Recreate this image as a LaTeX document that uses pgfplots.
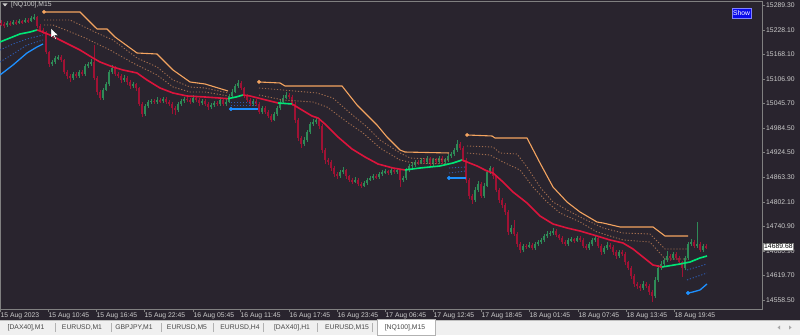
\documentclass[border=0pt]{standalone}
\usepackage{pgfplots}
\pgfplotsset{compat=1.18}
\usepackage{pgfplotstable}
\usepackage{fontspec}
\setmainfont{Liberation Sans}
\definecolor{bg}{RGB}{41,36,46}
\definecolor{framegray}{RGB}{128,128,128}
\definecolor{lblgray}{RGB}{205,205,205}
\definecolor{bull}{RGB}{46,139,87}
\definecolor{bear}{RGB}{160,18,52}
\definecolor{midred}{RGB}{220,20,60}
\definecolor{midgreen}{RGB}{0,230,118}
\definecolor{orng}{RGB}{244,164,96}
\definecolor{dotor}{RGB}{160,108,78}
\definecolor{blu}{RGB}{30,144,255}
\definecolor{dotblu}{RGB}{45,90,175}
\definecolor{tabbg}{RGB}{240,240,240}
\definecolor{tabtxt}{RGB}{70,70,70}
\definecolor{showblue}{RGB}{10,10,235}
\definecolor{showborder}{RGB}{130,130,255}
\newcommand\sm{\fontsize{6.8}{8}\selectfont}

\pgfplotstableread{
x o h l c
1 15245 15252 15238 15243
4 15243 15247 15233 15240
7 15240 15250 15236 15245
10 15245 15251 15238 15243
13 15243 15252 15240 15248
16 15248 15254 15241 15245
19 15245 15256 15242 15250
22 15250 15253 15243 15248
25 15248 15259 15245 15253
28 15253 15257 15246 15250
31 15250 15263 15247 15258
34 15258 15268 15254 15260
37 15260 15263 15233 15238
40 15238 15242 15222 15228
43 15228 15233 15218 15223
46 15223 15226 15168 15174
49 15174 15177 15137 15144
52 15144 15153 15138 15149
55 15149 15164 15145 15159
58 15159 15167 15154 15161
61 15161 15165 15148 15154
64 15154 15157 15118 15124
67 15124 15129 15107 15114
70 15114 15118 15100 15109
73 15109 15124 15104 15119
76 15119 15125 15110 15114
79 15114 15129 15110 15124
82 15124 15128 15113 15119
85 15119 15144 15115 15139
88 15139 15150 15134 15144
91 15144 15156 15140 15149
94 15149 15190 15104 15109
97 15109 15113 15068 15075
100 15075 15079 15054 15060
103 15060 15085 15055 15080
106 15080 15099 15076 15094
109 15094 15130 15090 15124
112 15124 15141 15119 15134
115 15134 15138 15113 15119
118 15119 15124 15108 15114
121 15114 15118 15098 15104
124 15104 15116 15100 15109
127 15109 15113 15093 15099
130 15099 15104 15083 15089
133 15089 15100 15085 15094
136 15094 15098 15078 15084
139 15084 15088 15039 15045
142 15045 15049 15012 15020
145 15020 15045 15016 15040
148 15040 15055 15036 15050
151 15050 15058 15045 15052
154 15052 15057 15046 15050
157 15050 15061 15046 15055
160 15055 15059 15047 15052
163 15052 15063 15048 15057
166 15057 15061 15045 15050
169 15050 15054 15040 15045
172 15045 15049 15020 15035
175 15035 15040 15017 15030
178 15030 15050 15026 15045
181 15045 15058 15041 15052
184 15052 15063 15048 15057
187 15057 15062 15050 15055
190 15055 15059 15045 15050
193 15050 15066 15046 15060
196 15060 15064 15050 15055
199 15055 15059 15041 15047
202 15047 15058 15043 15052
205 15052 15056 15039 15045
208 15045 15049 15030 15037
211 15037 15048 15033 15042
214 15042 15052 15038 15047
217 15047 15053 15040 15045
220 15045 15061 15041 15055
223 15055 15059 15039 15045
226 15045 15056 15041 15050
229 15050 15070 15046 15065
232 15065 15081 15061 15075
235 15075 15095 15071 15089
238 15089 15104 15085 15097
241 15097 15101 15079 15084
244 15084 15088 15059 15065
247 15065 15069 15049 15055
250 15055 15059 15039 15045
253 15045 15057 15041 15052
256 15052 15056 15040 15045
259 15045 15049 15019 15025
262 15025 15041 15021 15035
265 15035 15039 15019 15025
268 15025 15029 15009 15015
271 15015 15019 15000 15005
274 15005 15026 15002 15020
277 15020 15041 15016 15035
280 15035 15056 15031 15050
283 15050 15066 15046 15060
286 15060 15075 15056 15067
289 15067 15072 15057 15062
292 15062 15066 15039 15045
295 15045 15049 14998 15005
298 15005 15009 14954 14961
301 14961 14965 14936 14946
304 14946 14962 14941 14956
307 14956 14981 14951 14975
310 14975 15001 14971 14995
313 14995 15007 14991 15000
316 15000 15012 14996 15005
319 15005 15010 14984 14990
322 14990 14994 14924 14931
325 14931 14935 14896 14906
328 14906 14911 14894 14901
331 14901 14905 14880 14886
334 14886 14890 14865 14871
337 14871 14876 14860 14866
340 14866 14882 14862 14876
343 14876 14888 14872 14881
346 14881 14885 14860 14866
349 14866 14870 14851 14857
352 14857 14861 14846 14852
355 14852 14863 14848 14857
358 14857 14861 14841 14847
361 14847 14851 14837 14842
364 14842 14855 14838 14849
367 14849 14862 14845 14857
370 14857 14867 14853 14861
373 14861 14872 14857 14866
376 14866 14871 14859 14864
379 14864 14877 14860 14871
382 14871 14882 14867 14876
385 14876 14884 14872 14878
388 14878 14882 14869 14874
391 14874 14887 14870 14881
394 14881 14885 14871 14876
397 14876 14886 14872 14881
400 14881 14884 14840 14857
403 14857 14866 14852 14861
406 14861 14886 14857 14881
409 14881 14897 14877 14891
412 14891 14900 14887 14894
415 14894 14907 14890 14901
418 14901 14906 14894 14899
421 14899 14912 14895 14906
424 14906 14910 14896 14901
427 14901 14915 14897 14909
430 14909 14913 14891 14896
433 14896 14912 14892 14906
436 14906 14910 14896 14901
439 14901 14917 14897 14911
442 14911 14915 14896 14901
445 14901 14912 14897 14906
448 14906 14922 14902 14916
451 14916 14927 14912 14921
454 14921 14937 14917 14931
457 14931 14956 14927 14946
460 14946 14951 14931 14936
463 14936 14940 14900 14906
466 14906 14910 14850 14857
469 14857 14861 14810 14817
472 14817 14821 14797 14807
475 14807 14838 14803 14832
478 14832 14853 14828 14847
481 14847 14851 14811 14817
484 14817 14848 14813 14842
487 14842 14882 14838 14876
490 14876 14891 14872 14886
493 14886 14890 14860 14866
496 14866 14870 14826 14832
499 14832 14836 14800 14807
502 14807 14812 14788 14795
505 14795 14800 14770 14777
508 14777 14781 14721 14728
511 14728 14745 14723 14738
514 14738 14757 14717 14723
517 14723 14727 14691 14698
520 14698 14702 14676 14683
523 14683 14699 14679 14693
526 14693 14698 14686 14691
529 14691 14702 14687 14696
532 14696 14700 14683 14688
535 14688 14704 14684 14698
538 14698 14709 14694 14703
541 14703 14714 14699 14708
544 14708 14724 14704 14718
547 14718 14729 14714 14723
550 14723 14731 14719 14725
553 14725 14737 14721 14730
556 14730 14734 14715 14720
559 14720 14724 14707 14713
562 14713 14717 14697 14703
565 14703 14707 14692 14698
568 14698 14714 14694 14708
571 14708 14716 14704 14710
574 14710 14714 14701 14706
577 14706 14719 14702 14713
580 14713 14717 14703 14708
583 14708 14712 14687 14693
586 14693 14697 14682 14688
589 14688 14704 14684 14698
592 14698 14714 14694 14708
595 14708 14720 14704 14713
598 14713 14717 14688 14693
601 14693 14697 14672 14678
604 14678 14694 14674 14688
607 14688 14702 14684 14696
610 14696 14700 14686 14691
613 14691 14695 14672 14678
616 14678 14682 14662 14668
619 14668 14684 14664 14678
622 14678 14682 14668 14673
625 14673 14677 14647 14653
628 14653 14657 14633 14639
631 14639 14643 14612 14619
634 14619 14623 14592 14599
637 14599 14604 14587 14594
640 14594 14599 14582 14589
643 14589 14606 14584 14599
646 14599 14603 14588 14594
649 14594 14598 14572 14579
652 14579 14583 14554 14569
655 14569 14615 14565 14609
658 14609 14645 14605 14639
661 14639 14655 14634 14648
664 14648 14664 14644 14658
667 14658 14680 14654 14668
670 14668 14672 14657 14663
673 14663 14679 14659 14673
676 14673 14677 14658 14663
679 14663 14667 14647 14653
682 14653 14657 14616 14639
685 14639 14669 14634 14663
688 14663 14704 14659 14698
691 14698 14710 14694 14703
694 14703 14707 14688 14693
697 14693 14752 14689 14698
700 14698 14702 14678 14683
703 14683 14698 14679 14693
706 14693 14697 14686 14689.68
}\candles

\pgfplotsset{
  candle/.style n args={2}{draw=none, mark=none, forget plot,
    error bars/y dir=both, error bars/y explicit, error bars/error mark=none,
    error bars/error bar style={line width=#2, draw=#1, solid}},
}

\begin{document}
\begin{tikzpicture}[x=1pt,y=1pt]
\fill[bg] (0,-26) rectangle (800,309);
% tab bar
\fill[tabbg] (0,-26) rectangle (800,-11);
\draw[gray!50, line width=0.5pt] (0,-11) -- (800,-11);
\filldraw[fill=white, draw=gray!60, line width=0.5pt] (377,-26.5) rectangle (435,-10.5);
\foreach \s in {55,111,161,213,263,317,372} \draw[gray!60, line width=0.5pt] (\s,-14) -- (\s,-23);
\foreach \p/\t in {26/{[DAX40],M1},82/{EURUSD,M1},134/{GBPJPY,M1},187/{EURUSD,M5},240/{EURUSD,H4},292/{[DAX40],H1},347/{EURUSD,M15},405/{[NQ100],M15}}
  \node[font=\sm, text=tabtxt, inner sep=0pt] at (\p,-18.5) {\t};
\fill[gray!70] (780,-16.5) -- (780,-20.5) -- (777.5,-18.5) -- cycle;
\fill[gray!70] (789,-16.5) -- (789,-20.5) -- (791.5,-18.5) -- cycle;

\begin{axis}[
  at={(0,0)}, anchor=south west,
  scale only axis, width=762pt, height=308pt,
  xmin=0, xmax=762, ymin=14536.9, ymax=15299.9,
  axis line style={draw=framegray, line width=0.7pt},
  xtick={0,48,96,144,193,240,289,337,385,433,481,529,578,626,674},
  xticklabels={15 Aug 2023,15 Aug 10:45,15 Aug 16:45,15 Aug 22:45,16 Aug 05:45,16 Aug 11:45,16 Aug 17:45,16 Aug 23:45,17 Aug 06:45,17 Aug 12:45,17 Aug 18:45,18 Aug 01:45,18 Aug 07:45,18 Aug 13:45,18 Aug 19:45},
  ytick={15289.3,15228.1,15168.1,15106.9,15045.7,14984.5,14924.5,14863.3,14802.1,14740.9,14680.9,14619.7,14558.5},
  yticklabels={15289.30,15228.10,15168.10,15106.90,15045.70,14984.50,14924.50,14863.30,14802.10,14740.90,14680.90,14619.70,14558.50},
  xtick pos=bottom, ytick pos=right, yticklabel pos=right,
  tick align=outside, major tick length=3pt,
  tick style={draw=framegray, line width=0.6pt},
  tick label style={font=\sm, text=lblgray},
  xticklabel style={anchor=north west, inner sep=0pt, xshift=0.5pt, yshift=-1pt},
  yticklabel style={anchor=west, inner sep=0pt, xshift=1pt},
  clip=true,
]
% candles: bull
\addplot[candle={bull}{0.75pt}, restrict expr to domain={\thisrow{c}-\thisrow{o}}{0:100000}]
  table[x=x, y expr={(\thisrow{h}+\thisrow{l})/2}, y error expr={(\thisrow{h}-\thisrow{l})/2}] {\candles};
\addplot[candle={bull}{2.3pt}, restrict expr to domain={\thisrow{c}-\thisrow{o}}{0:100000}]
  table[x=x, y expr={(\thisrow{o}+\thisrow{c})/2}, y error expr={abs(\thisrow{c}-\thisrow{o})/2}] {\candles};
% candles: bear
\addplot[candle={bear}{0.75pt}, restrict expr to domain={\thisrow{c}-\thisrow{o}}{-100000:-0.001}]
  table[x=x, y expr={(\thisrow{h}+\thisrow{l})/2}, y error expr={(\thisrow{h}-\thisrow{l})/2}] {\candles};
\addplot[candle={bear}{2.3pt}, restrict expr to domain={\thisrow{c}-\thisrow{o}}{-100000:-0.001}]
  table[x=x, y expr={(\thisrow{o}+\thisrow{c})/2}, y error expr={abs(\thisrow{c}-\thisrow{o})/2}] {\candles};

% upper dotted bands
\pgfplotsset{dotband/.style={dotor, line width=0.9pt, dash pattern=on 1.2pt off 1.8pt}}
\addplot[dotband] coordinates {(44,15252.9) (70,15252.9) (97,15220.6) (113,15203.3) (137,15158.7) (157,15136.4) (173,15104.2) (190,15086.9) (205,15084.4) (228,15072.0)};
\addplot[dotband] coordinates {(259,15084.4) (283,15079.5) (317,15072.0) (333,15059.6) (350,15022.5) (367,14987.8) (380,14955.6) (400,14923.4) (410,14911.0) (449,14906.0)};
\addplot[dotband] coordinates {(467,14940.7) (493,14938.2) (500,14923.4) (517,14920.9) (527,14888.7) (540,14839.1) (553,14802.0) (567,14782.2) (580,14764.8) (603,14737.6) (623,14725.2) (650,14722.7) (665,14685.6) (688,14685.6)};
\addplot[dotband] coordinates {(44,15240.5) (53,15240.5) (83,15210.7) (110,15178.5) (133,15146.3) (157,15116.6) (173,15086.9) (190,15074.5) (205,15074.5) (228,15064.6)};
\addplot[dotband] coordinates {(259,15067.0) (283,15054.7) (313,15049.7) (327,15037.3) (347,15000.2) (363,14972.9) (380,14935.8) (400,14906.0) (413,14898.6) (449,14896.1)};
\addplot[dotband] coordinates {(467,14923.4) (490,14918.4) (503,14901.1) (520,14881.3) (533,14839.1) (547,14802.0) (560,14774.7) (580,14752.4) (597,14727.7) (623,14707.9) (650,14702.9) (665,14660.8) (688,14660.8)};
% lower dotted bands
\pgfplotsset{dotbl/.style={dotblu, line width=0.9pt, dash pattern=on 1.2pt off 1.8pt}}
\addplot[dotbl] coordinates {(0,15178.5) (13,15193.4) (27,15205.8) (43,15215.7)};
\addplot[dotbl] coordinates {(0,15148.8) (13,15168.6) (27,15190.9) (43,15203.3)};
\addplot[dotbl] coordinates {(231,15049.7) (258,15049.7)};
\addplot[dotbl] coordinates {(231,15042.3) (258,15042.3)};
\addplot[dotbl] coordinates {(449,14886.2) (466,14888.7)};
\addplot[dotbl] coordinates {(449,14873.8) (466,14878.8)};
\addplot[dotbl] coordinates {(687,14633.5) (707,14648.4)};
\addplot[dotbl] coordinates {(687,14608.8) (707,14626.1)};

% orange upper line
\pgfplotsset{orl/.style={orng, line width=1.1pt}}
\addplot[orl] coordinates {(44,15272.7) (80,15272.7) (97,15230.6) (107,15230.6) (115,15210.7) (137,15171.1) (157,15168.6) (173,15129.0) (190,15099.3) (205,15094.3) (228,15077.0)};
\addplot[orl] coordinates {(259,15099.3) (280,15096.8) (285,15089.4) (342,15089.4) (357,15042.3) (377,14992.7) (387,14963.0) (400,14930.8) (405,14925.8) (449,14923.4)};
\addplot[orl] coordinates {(467,14968.0) (492,14965.5) (495,14960.5) (527,14960.5) (540,14898.6) (553,14839.1) (567,14802.0) (580,14777.2) (597,14752.4) (603,14750.0) (620,14740.1) (653,14740.1) (665,14717.8) (688,14717.8)};
\addplot[only marks, mark=*, mark size=1.7pt, orng] coordinates {(44,15272.7) (259,15099.3) (467,14968.0)};

% blue lower line
\pgfplotsset{bll/.style={blu, line width=1.3pt}}
\addplot[bll] coordinates {(0,15116.6) (13,15141.4) (27,15171.1) (37,15186.0) (43,15193.4)};
\addplot[bll] coordinates {(231,15032.4) (258,15032.4)};
\addplot[bll] coordinates {(449,14861.4) (466,14861.4)};
\addplot[bll] coordinates {(688,14576.5) (693,14579.1) (700,14584.0) (707,14598.9)};
\addplot[only marks, mark=*, mark size=1.8pt, blu] coordinates {(231,15032.4) (449,14861.4) (688,14576.5)};

% middle line
\pgfplotsset{mr/.style={midred, line width=1.6pt}, mg/.style={midgreen, line width=1.6pt}}
\addplot[mg] coordinates {(0,15198.4) (10,15208.3) (20,15218.2) (30,15223.1) (37,15228.1)};
\addplot[mr] coordinates {(37,15228.1) (40,15225.6) (50,15215.7) (60,15203.3) (70,15190.9) (80,15178.5) (93,15158.7) (100,15148.8) (113,15136.4) (123,15129.0) (137,15121.6) (147,15104.2) (160,15084.4) (173,15072.0) (187,15064.6) (205,15062.1) (228,15058.0)};
\addplot[mg] coordinates {(228,15058.0) (236,15062.1) (243,15067.0)};
\addplot[mr] coordinates {(243,15067.0) (250,15064.6) (262,15057.1) (278,15047.2)};
\addplot[mg] coordinates {(278,15047.2) (292,15044.8)};
\addplot[mr] coordinates {(292,15044.8) (302,15029.9) (312,15015.0) (318,15010.1) (325,14995.2) (338,14963.0) (352,14933.3) (365,14913.5) (378,14896.1) (393,14886.2) (405,14881.3)};
\addplot[mg] coordinates {(405,14881.3) (420,14886.2) (440,14891.2) (453,14898.6) (462,14906.0)};
\addplot[mr] coordinates {(462,14906.0) (477,14891.2) (487,14878.8) (493,14873.8) (503,14851.5) (513,14826.8) (527,14799.5) (540,14767.3) (553,14747.5) (567,14737.6) (580,14730.1) (597,14717.8) (610,14707.9) (623,14700.4) (633,14685.6) (643,14665.7) (653,14645.9) (662,14641.0)};
\addplot[mg] coordinates {(662,14641.0) (680,14648.4) (690,14653.3) (700,14663.3) (707,14668.2)};
\end{axis}

% chart title, button, price box, cursor
\fill[lblgray] (2.5,305.5) -- (7.5,305.5) -- (5,302.5) -- cycle;
\node[font=\sm, text=lblgray, anchor=west, inner sep=0pt] at (11,304) {[NQ100],M15};
\filldraw[fill=showblue, draw=showborder, line width=0.6pt] (732,291) rectangle (751,301);
\node[font=\sm, text=white, inner sep=0pt] at (741.5,296) {Show};
\node[fill=white, draw=gray, line width=0.4pt, inner xsep=1pt, inner ysep=0.8pt, anchor=west, font=\sm, text=black] at (763,62.5) {14689.68};
\filldraw[fill=white, draw=black, line width=0.3pt] (51,281) -- (51,271) -- (53.5,273.2) -- (55.2,269.5) -- (56.5,270) -- (54.8,273.7) -- (58,273.7) -- cycle;
\pgfresetboundingbox
\path[use as bounding box] (0,-26) rectangle (800,309);
\end{tikzpicture}
\end{document}
